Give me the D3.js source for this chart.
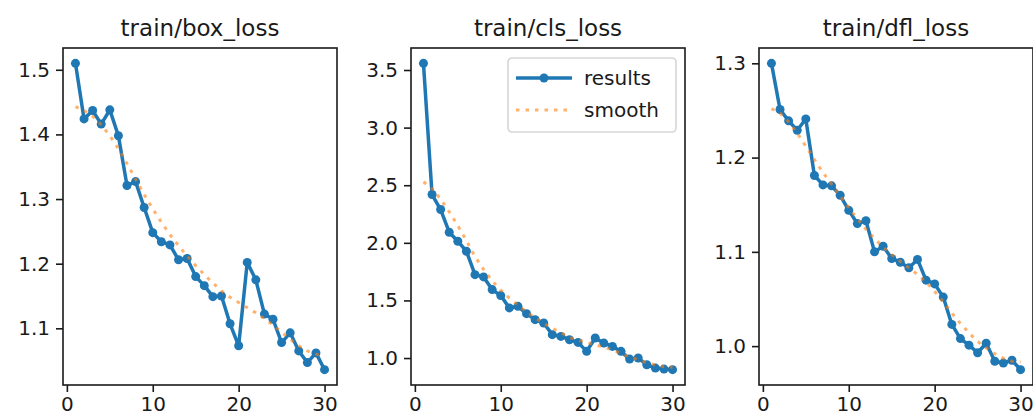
<!DOCTYPE html>
<html>
<head>
<meta charset="utf-8">
<script src="https://cdn.jsdelivr.net/npm/d3@7"></script>
<style>
    body { margin: 0; background: #fff; }
    text { font-family: "DejaVu Sans", sans-serif; fill: #1a1a1a; }
</style>
</head>
<body>
<script>
var epochs = [1, 2, 3, 4, 5, 6, 7, 8, 9, 10, 11, 12, 13, 14, 15, 16, 17, 18, 19, 20, 21, 22, 23, 24, 25, 26, 27, 28, 29, 30]

var titles = ["train/box_loss", "train/cls_loss", "train/dfl_loss"]

var boxLoss = [1.510, 1.424, 1.437, 1.416, 1.438, 1.398, 1.321, 1.327, 1.287, 1.248,
    1.234, 1.229, 1.206, 1.208, 1.180, 1.166, 1.149, 1.150, 1.107, 1.073,
    1.202, 1.175, 1.122, 1.114, 1.078, 1.093, 1.065, 1.047, 1.062, 1.036]
var boxSmooth = [1.443, 1.437, 1.428, 1.415, 1.398, 1.378, 1.355, 1.331, 1.307, 1.285,
    1.264, 1.245, 1.228, 1.212, 1.197, 1.183, 1.170, 1.158, 1.148, 1.140,
    1.132, 1.124, 1.115, 1.105, 1.094, 1.083, 1.073, 1.065, 1.060, 1.057]

var clsLoss = [3.558, 2.419, 2.289, 2.092, 2.014, 1.927, 1.724, 1.704, 1.594, 1.542,
    1.435, 1.449, 1.385, 1.333, 1.304, 1.203, 1.188, 1.159, 1.136, 1.058,
    1.174, 1.130, 1.101, 1.058, 0.991, 1.000, 0.942, 0.913, 0.904, 0.899]
var clsSmooth = [2.53, 2.47, 2.38, 2.27, 2.15, 2.02, 1.88, 1.77, 1.67, 1.59,
    1.52, 1.46, 1.40, 1.35, 1.30, 1.26, 1.22, 1.18, 1.155, 1.135,
    1.115, 1.095, 1.07, 1.04, 1.01, 0.985, 0.96, 0.94, 0.925, 0.92]

var dflLoss = [1.300, 1.251, 1.239, 1.229, 1.241, 1.181, 1.171, 1.170, 1.160, 1.144,
    1.130, 1.133, 1.100, 1.106, 1.093, 1.089, 1.083, 1.092, 1.070, 1.066,
    1.052, 1.023, 1.008, 1.001, 0.993, 1.003, 0.984, 0.982, 0.985, 0.975]
var dflSmooth = [1.252, 1.247, 1.238, 1.226, 1.212, 1.198, 1.184, 1.172, 1.159, 1.147,
    1.135, 1.124, 1.114, 1.105, 1.097, 1.090, 1.083, 1.076, 1.068, 1.058,
    1.047, 1.035, 1.024, 1.014, 1.005, 0.998, 0.992, 0.987, 0.984, 0.983]

var xTicks = [0, 10, 20, 30]
var yTicks = [
    [1.1, 1.2, 1.3, 1.4, 1.5],
    [1.0, 1.5, 2.0, 2.5, 3.0, 3.5],
    [1.0, 1.1, 1.2, 1.3]
]

var legendLabels = ["results", "smooth"]

var panels = [
    { title: titles[0], results: boxLoss, smooth: boxSmooth, ticks: yTicks[0] },
    { title: titles[1], results: clsLoss, smooth: clsSmooth, ticks: yTicks[1], legend: true },
    { title: titles[2], results: dflLoss, smooth: dflSmooth, ticks: yTicks[2] }
]

var width = 1033,
    height = 420;

var blue = "#1f77b4",
    orange = "#ff7f0e";

// geometrie des axes (meme taille pour les 3)
var plotLefts = [63, 411, 759],
    plotTop = 48,
    plotW = 274,
    plotH = 337;

var svg = d3.select("body")
    .append("svg")
    .attr("width", width)
    .attr("height", height);

panels.forEach(function (p, i) {
    var g = svg.append("g")
        .attr("transform", "translate(" + plotLefts[i] + "," + plotTop + ")");

    // marges de 5% comme matplotlib
    var xpad = (d3.max(epochs) - d3.min(epochs)) * 0.05
    var x = d3.scaleLinear()
        .domain([d3.min(epochs) - xpad, d3.max(epochs) + xpad])
        .range([0, plotW]);

    var lo = d3.min(p.results.concat(p.smooth)),
        hi = d3.max(p.results.concat(p.smooth));
    var ypad = (hi - lo) * 0.05
    var y = d3.scaleLinear()
        .domain([lo - ypad, hi + ypad])
        .range([plotH, 0]);

    var xAxis = g.append("g")
        .attr("transform", "translate(0," + plotH + ")")
        .call(d3.axisBottom(x).tickValues(xTicks).tickSize(7).tickPadding(5).tickFormat(d3.format("d")));

    var yAxis = g.append("g")
        .call(d3.axisLeft(y).tickValues(p.ticks).tickSize(7).tickPadding(6).tickFormat(d3.format(".1f")));

    [xAxis, yAxis].forEach(function (a) {
        a.select(".domain").remove();
        a.selectAll("line").attr("stroke", "#1a1a1a").attr("stroke-width", 1.6);
        a.selectAll("text").style("font-size", "20px").style("font-family", "DejaVu Sans, sans-serif").attr("fill", "#1a1a1a");
    });

    var line = d3.line()
        .x(function (d, j) { return x(epochs[j]); })
        .y(function (d) { return y(d); });

    g.append("path")
        .datum(p.results)
        .attr("fill", "none")
        .attr("stroke", blue)
        .attr("stroke-width", 3.5)
        .attr("stroke-linejoin", "round")
        .attr("d", line);

    g.selectAll(".pt")
        .data(p.results)
        .join("circle")
        .attr("class", "pt")
        .attr("cx", function (d, j) { return x(epochs[j]); })
        .attr("cy", function (d) { return y(d); })
        .attr("r", 4.5)
        .attr("fill", blue);

    // la courbe lissee apparait tres pale sur la reference
    g.append("path")
        .datum(p.smooth)
        .attr("fill", "none")
        .attr("stroke", orange)
        .attr("stroke-opacity", 0.6)
        .attr("stroke-width", 3)
        .attr("stroke-dasharray", "3.5,6")
        .attr("d", line);

    // cadre
    g.append("rect")
        .attr("width", plotW)
        .attr("height", plotH)
        .attr("fill", "none")
        .attr("stroke", "#1a1a1a")
        .attr("stroke-width", 1.6);

    g.append("text")
        .attr("x", plotW / 2)
        .attr("y", -12)
        .attr("text-anchor", "middle")
        .style("font-size", "23px")
        .text(p.title);

    if (p.legend) {
        var lg = g.append("g").attr("transform", "translate(97,10)");
        lg.append("rect")
            .attr("width", 168)
            .attr("height", 74)
            .attr("rx", 4)
            .attr("fill", "#fff")
            .attr("fill-opacity", 0.8)
            .attr("stroke", "#d6d6d6")
            .attr("stroke-width", 1.6);

        lg.append("line")
            .attr("x1", 8).attr("x2", 64).attr("y1", 20).attr("y2", 20)
            .attr("stroke", blue).attr("stroke-width", 3.5);
        lg.append("circle")
            .attr("cx", 36).attr("cy", 20).attr("r", 4.5).attr("fill", blue);
        lg.append("line")
            .attr("x1", 8).attr("x2", 64).attr("y1", 52).attr("y2", 52)
            .attr("stroke", orange).attr("stroke-opacity", 0.6)
            .attr("stroke-width", 3).attr("stroke-dasharray", "3.5,6");

        lg.selectAll(".lab")
            .data(legendLabels)
            .join("text")
            .attr("class", "lab")
            .attr("x", 76)
            .attr("y", function (d, j) { return 27 + j * 32; })
            .style("font-size", "20px")
            .text(function (d) { return d; });
    }
});
</script>
</body>
</html>
